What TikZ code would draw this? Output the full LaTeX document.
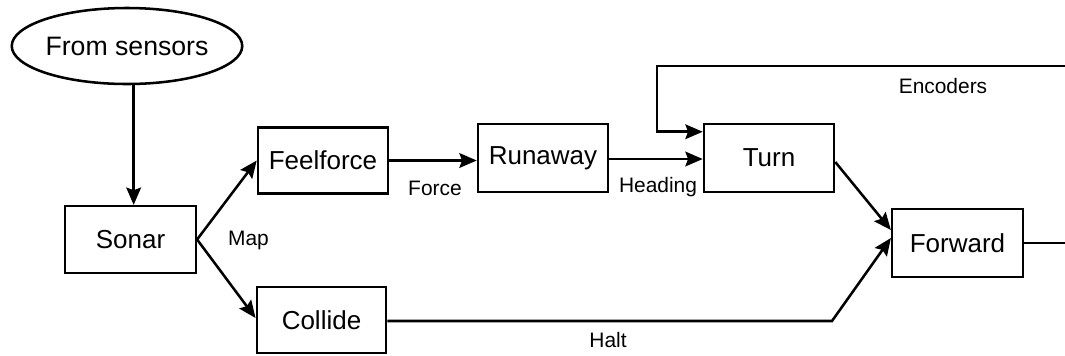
\documentclass[tikz,border=0pt]{standalone}
\usepackage{fontspec}
\setmainfont{Liberation Sans}
\usetikzlibrary{arrows.meta,shapes.geometric}
\begin{document}
\begin{tikzpicture}[x=0.75pt,y=-0.75pt,
  block/.style={draw,line width=1.9pt,inner sep=0pt,font=\fontsize{19.5}{22}\selectfont},
  src/.style={draw,ellipse,line width=1.9pt,inner sep=0pt,minimum width=172.5pt,minimum height=57pt,font=\fontsize{20}{22}\selectfont},
  lbl/.style={font=\fontsize{15.7}{18}\selectfont,inner sep=0pt},
  wire/.style={line width=1.9pt},
  arr/.style={wire,-{Stealth[length=13pt,width=11pt,inset=2pt]}}]
\useasboundingbox (0,0) rectangle (1065,355);

% processing blocks
\node[src] (ell) at (127,46) {From sensors};
\node[block,minimum width=98pt,minimum height=50pt] (sonar) at (130.5,239.5) {Sonar};
\node[block,minimum width=97.5pt,minimum height=49.5pt] (feel) at (323,160.5) {Feelforce};
\node[block,minimum width=97.5pt,minimum height=51pt] (run) at (543,158) {Runaway};
\node[block,minimum width=97.5pt,minimum height=51pt] (turn) at (769,158) {Turn};
\node[block,minimum width=98pt,minimum height=51pt] (fwd) at (957.5,243) {Forward};
\node[block,minimum width=97pt,minimum height=49.5pt] (coll) at (321.5,320) {Collide};

% free ends and bends
\coordinate (encin) at (1065,66);
\coordinate (encbend) at (657,66);
\coordinate (haltbend) at (832,321);
\coordinate (out) at (1065,243);

% connectors
\draw[arr] ([xshift=5pt]ell.south) -- ([xshift=5pt]ell.south |- sonar.north);
\draw[arr] (sonar.east) -- (feel.west);
\draw[arr] (sonar.east) -- ([yshift=1.5pt]coll.west);
\draw[arr] (feel.east) -- (feel.east -| run.west);
\draw[arr] ([yshift=-0.75pt]run.east) -- ([yshift=-0.75pt]run.east -| turn.west);
\draw[arr] (encin) -- (encbend) |- ([yshift=-6.75pt]turn.north west);
\draw[arr] ([yshift=-3pt]turn.east) -- ([yshift=9.75pt]fwd.west);
\draw[arr] ([yshift=-0.75pt]coll.east) -- (haltbend) -- ([yshift=3.75pt]fwd.west);
\draw[wire] (fwd.east) -- (out);

% signal labels
\node[lbl] (lmap) at (248.5,240) {Map};
\node[lbl] (lforce) at (435,188) {Force};
\node[lbl] (lhead) at (658,187) {Heading};
\node[lbl] (lhalt) at (608,340) {Halt};
\node[lbl] (lenc) at (943,86) {Encoders};
\end{tikzpicture}
\end{document}
